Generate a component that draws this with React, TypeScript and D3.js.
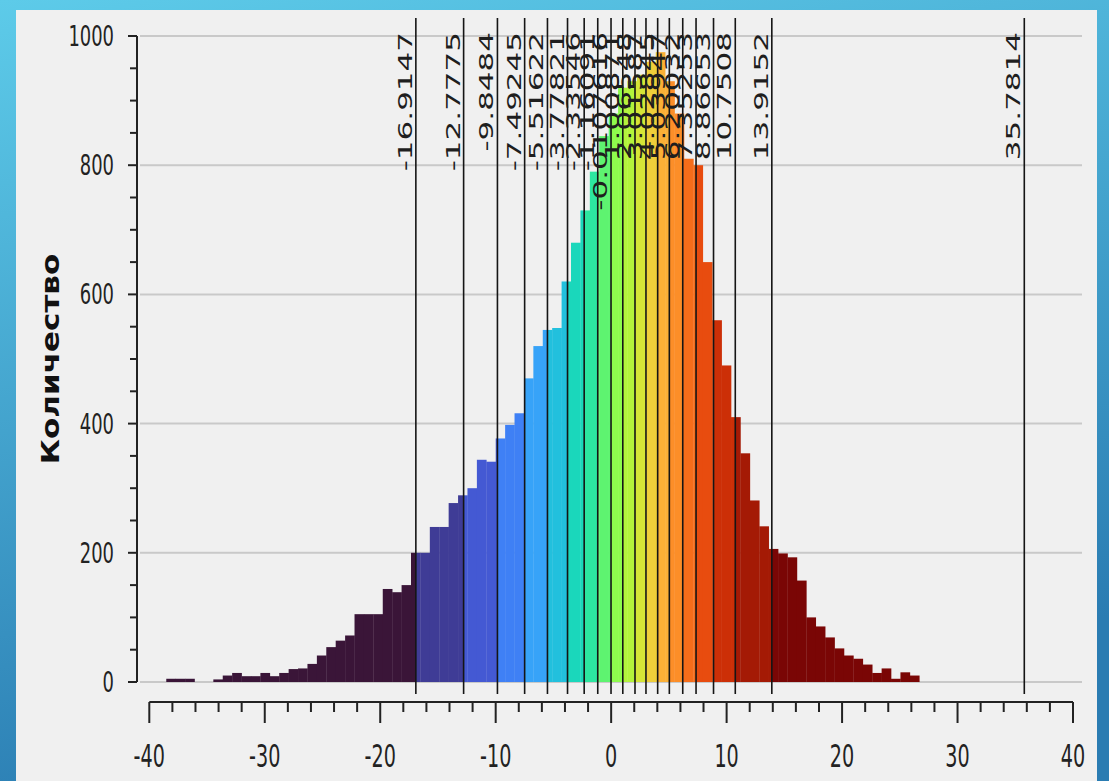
import React from "react";
import * as d3 from "d3";

// histogram bins (80 bins starting at binStart)
const binStart = -38.53;
const binWidth = 0.8152;
const counts = [
  5, 5, 5, 0, 0, 4, 10, 14, 9, 9,
  14, 9, 14, 20, 21, 28, 41, 54, 64, 72,
  105, 105, 105, 144, 139, 150, 200, 200, 240, 240,
  277, 289, 300, 344, 341, 377, 398, 416, 470, 520,
  545, 548, 620, 680, 730, 790, 845, 880, 920, 930,
  940, 960, 975, 930, 880, 810, 800, 650, 560, 490,
  410, 354, 281, 241, 206, 199, 193, 157, 100, 86,
  69, 52, 41, 36, 27, 14, 21, 5, 15, 10,
];

// class breaks and their labels
const breakLabels = [
  "-16.9147", "-12.7775", "-9.8484", "-7.49245", "-5.51622", "-3.77821",
  "-2.33546", "-1.16091", "-0.0107616", "1.00871", "2.06548", "3.01587",
  "4.02845", "5.03947", "6.20032", "7.35253", "8.86653", "10.7508",
  "13.9152", "35.7814",
];
const breaks = breakLabels.map(Number);

const classColors = [
  "#3a1538", "#3f3c96", "#4459d3", "#3f80f5", "#37a3f8", "#22c0dd",
  "#1ad7bb", "#2de6a0", "#5ef370", "#8efb4d", "#b3f33b", "#d5e537",
  "#efce3a", "#fbb036", "#fc8e28", "#f66d1a", "#e84c0f", "#cc2f07",
  "#a41a05", "#7a0605",
];

const yTicks = [0, 200, 400, 600, 800, 1000];
const xTicks = [-40, -30, -20, -10, 0, 10, 20, 30, 40];

const W = 1109;
const H = 781;
const SX = 0.6;

export default function App() {
  const x = d3.scaleLinear().domain([-40, 40]).range([149.3, 1073]);
  const y = d3.scaleLinear().domain([0, 1000]).range([682, 36]);

  const edges = [binStart, ...breaks];
  const segs: { x0: number; x1: number; c: number; color: string }[] = [];
  counts.forEach((c, k) => {
    const b0 = binStart + k * binWidth;
    const b1 = b0 + binWidth;
    for (let i = 0; i < classColors.length; i++) {
      const lo = Math.max(b0, edges[i]);
      const hi = Math.min(b1, edges[i + 1]);
      if (hi > lo && c > 0) segs.push({ x0: lo, x1: hi, c, color: classColors[i] });
    }
  });

  const minorY = d3.range(0, 1001, 50);
  const minorX = d3.range(-40, 41, 2);
  const font = "'DejaVu Sans', Verdana, sans-serif";

  return (
    <svg
      width={W}
      height={H}
      style={{ position: "absolute", left: 0, top: 0 }}
      fontFamily={font}
    >
      <defs>
        <linearGradient id="bg" x1="0" y1="0" x2="0.3" y2="1">
          <stop offset="0" stopColor="#5dcbe9" />
          <stop offset="1" stopColor="#2a7cb2" />
        </linearGradient>
      </defs>
      <rect width={W} height={H} fill="url(#bg)" />
      <rect x={16} y={10} width={1081} height={H - 10} fill="#f0f0f0" />

      {/* grid */}
      {yTicks.map((t) => (
        <line key={"g" + t} x1={140} x2={1082} y1={y(t)} y2={y(t)} stroke="#c9c9c9" strokeWidth={2} />
      ))}

      {/* bars */}
      {segs.map((s, i) => (
        <rect
          key={i}
          x={x(s.x0)}
          width={x(s.x1) - x(s.x0) + 0.3}
          y={y(s.c)}
          height={y(0) - y(s.c)}
          fill={s.color}
        />
      ))}

      {/* break lines + labels */}
      {breaks.map((b, i) => (
        <g key={"b" + i}>
          <line x1={x(b)} x2={x(b)} y1={18} y2={694} stroke="#151515" strokeWidth={1.6} />
          <text
            transform={`translate(${x(b) - 4},32) scale(${SX},1) rotate(-90)`}
            textAnchor="end"
            fontSize={31}
            fill="#1e1e1e"
          >
            {breakLabels[i]}
          </text>
        </g>
      ))}

      {/* y axis */}
      <line x1={137} x2={137} y1={y(1000)} y2={y(0)} stroke="#222" strokeWidth={2} />
      {minorY.map((t) => (
        <line key={"ym" + t} x1={t % 200 === 0 ? 128 : 130} x2={137} y1={y(t)} y2={y(t)} stroke="#222" strokeWidth={2} />
      ))}
      {yTicks.map((t) => (
        <text
          key={"yl" + t}
          transform={`translate(114,${y(t) + 10}) scale(0.64,1)`}
          textAnchor="end"
          fontSize={28}
          fill="#222"
        >
          {t}
        </text>
      ))}
      <text
        transform={`translate(59,359) scale(0.78,1) rotate(-90)`}
        textAnchor="middle"
        fontSize={31}
        fontWeight="bold"
        fill="#111"
      >
        Количество
      </text>

      {/* x axis */}
      <line x1={x(-40)} x2={x(40)} y1={702} y2={702} stroke="#222" strokeWidth={2} />
      {minorX.map((t) => (
        <line key={"xm" + t} x1={x(t)} x2={x(t)} y1={702} y2={t % 10 === 0 ? 723 : 712} stroke="#222" strokeWidth={2} />
      ))}
      {xTicks.map((t) => (
        <text
          key={"xl" + t}
          transform={`translate(${x(t)},767) scale(${SX},1)`}
          textAnchor="middle"
          fontSize={32}
          fill="#222"
        >
          {t}
        </text>
      ))}
    </svg>
  );
}
